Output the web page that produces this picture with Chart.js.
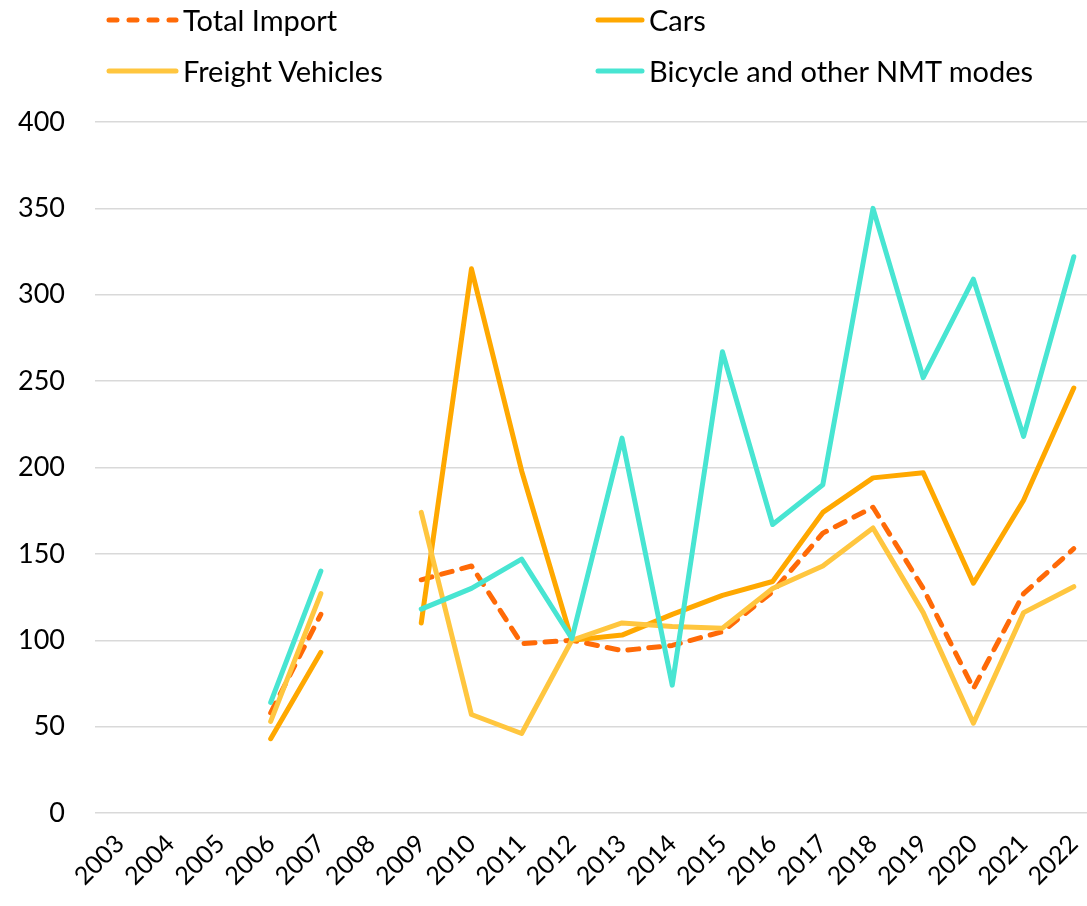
<!DOCTYPE html>
<html>
<head>
<meta charset="utf-8">
<script src="https://cdn.jsdelivr.net/npm/chart.js@4"></script>
<style>
  html, body { margin: 0; padding: 0; background: #fff; overflow: hidden; width: 1087px; height: 906px; }
  #wrap { position: absolute; left: 0; top: 0; width: 1111px; height: 906px; }
  #legend { position: absolute; left: 0; top: 0; width: 1087px; height: 100px; font-family: Lato, "Noto Sans", sans-serif; font-size: 29px; color: #000; }
  .item { position: absolute; display: flex; align-items: center; white-space: nowrap; }
  .item canvas { display: block; margin-right: 3px; }
</style>
</head>
<body>
<div id="wrap"><canvas id="c" width="1111" height="906"></canvas></div>
<div id="legend"></div>
<script>
const categories = ['2003','2004','2005','2006','2007','2008','2009','2010','2011','2012','2013','2014','2015','2016','2017','2018','2019','2020','2021','2022'];
const totalImport = [null,null,null,58,115,null,135,143,98,100,94,97,105,128,162,177,130,72,127,153];
const cars        = [null,null,null,43,93,null,110,315,198,100,103,115,126,134,174,194,197,133,181,246];
const freight     = [null,null,null,53,127,null,174,57,46,100,110,108,107,130,143,165,116,52,116,131];
const bicycle     = [null,null,null,64,140,null,118,130,147,101,217,74,267,167,190,350,252,309,218,322];
const seriesNames = ['Total Import','Cars','Freight Vehicles','Bicycle and other NMT modes'];
const yTicks = [0,50,100,150,200,250,300,350,400];

const colors = ['#FF6A07','#FFA800','#FFC63F','#48E5D2'];
const FONT = 'Lato, "Noto Sans", sans-serif';

const mk = (label, data, color, dash) => ({
  label, data, borderColor: color, backgroundColor: color,
  borderWidth: 5, borderDash: dash || [], borderCapStyle: 'round', borderJoinStyle: 'round',
  pointRadius: 0, pointHoverRadius: 0, tension: 0, spanGaps: false, fill: false
});

const chart = new Chart(document.getElementById('c'), {
  type: 'line',
  data: {
    labels: categories,
    datasets: [
      mk(seriesNames[3], bicycle, colors[3]),
      mk(seriesNames[2], freight, colors[2]),
      mk(seriesNames[1], cars, colors[1]),
      mk(seriesNames[0], totalImport, colors[0], [11, 10])
    ]
  },
  options: {
    responsive: false,
    animation: false,
    layout: { padding: { top: 122, left: 0, right: 0, bottom: 0 } },
    plugins: { legend: { display: false }, tooltip: { enabled: false } },
    scales: {
      x: {
        offset: true,
        grid: { display: false, drawTicks: false },
        border: { display: false },
        ticks: { color: '#000', font: { family: FONT, size: 25 }, maxRotation: 45, minRotation: 45, autoSkip: false, padding: 16 },
        afterFit: (ax) => { ax.height = 93; }
      },
      y: {
        min: 0, max: 400,
        afterBuildTicks: (ax) => { ax.ticks = yTicks.map(v => ({ value: v })); },
        grid: { color: '#D9D9D9', lineWidth: 1.5, drawTicks: false },
        border: { display: false },
        ticks: { color: '#000', font: { family: FONT, size: 27 }, padding: 30 },
        afterFit: (ax) => { ax.width = 95; }
      }
    }
  }
});

// HTML legend
const legend = document.getElementById('legend');
const pos = [
  { i: 0, x: 105, y: 20, w: 75 },
  { i: 1, x: 594, y: 20, w: 52 },
  { i: 2, x: 105, y: 71, w: 75 },
  { i: 3, x: 594, y: 71, w: 52 }
];
pos.forEach(p => {
  const d = document.createElement('div');
  d.className = 'item';
  d.style.left = p.x + 'px';
  d.style.top = (p.y - 18) + 'px';
  const cv = document.createElement('canvas');
  cv.width = p.w; cv.height = 12;
  const ctx = cv.getContext('2d');
  ctx.strokeStyle = colors[p.i]; ctx.lineWidth = 5; ctx.lineCap = 'round';
  if (p.i === 0) ctx.setLineDash([8, 12]);
  ctx.beginPath(); ctx.moveTo(4, 6); ctx.lineTo(p.w - 4, 6); ctx.stroke();
  const s = document.createElement('span');
  s.textContent = seriesNames[p.i];
  d.appendChild(cv); d.appendChild(s);
  legend.appendChild(d);
});
</script>
</body>
</html>
